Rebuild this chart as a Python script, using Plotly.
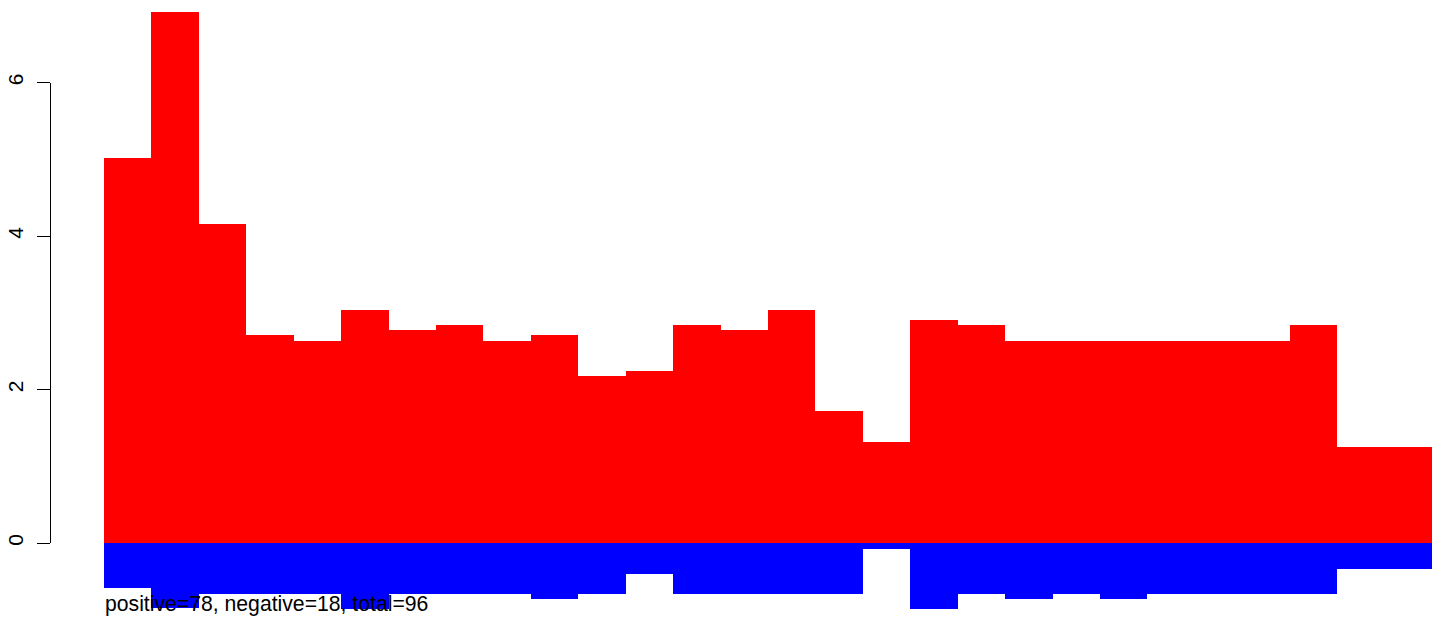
import plotly.graph_objects as go

# Data
bar_index = list(range(28))
positive_values = [5.02, 6.92, 4.16, 2.71, 2.63, 3.04, 2.77, 2.84, 2.63, 2.71,
                   2.18, 2.24, 2.84, 2.77, 3.04, 1.72, 1.32, 2.90, 2.84, 2.63,
                   2.63, 2.63, 2.63, 2.63, 2.63, 2.84, 1.25, 1.25]
negative_values = [-0.59, -0.85, -0.66, -0.66, -0.66, -0.86, -0.66, -0.66, -0.66, -0.73,
                   -0.66, -0.40, -0.66, -0.66, -0.66, -0.66, -0.08, -0.86, -0.66, -0.73,
                   -0.66, -0.73, -0.66, -0.66, -0.66, -0.66, -0.34, -0.34]
y_ticks = [0, 2, 4, 6]
summary_text = "positive=78, negative=18, total=96"

W, H = 1444, 620
x_left_px, x_right_px = 104, 1432
px_per_x = (x_right_px - x_left_px) / len(bar_index)
x_range = [-0.5 - x_left_px / px_per_x, len(bar_index) - 0.5 + (W - x_right_px) / px_per_x]

px_per_y = 76.75
zero_px = 543
y_max = zero_px / px_per_y
y_min = -(H - zero_px) / px_per_y
span = y_max - y_min
dom2 = [(0 - y_min) / span, (6 - y_min) / span]

fig = go.Figure()
fig.add_trace(go.Bar(x=bar_index, y=positive_values, width=1,
                     marker=dict(color="#FF0000", line=dict(width=0)), hoverinfo="skip"))
fig.add_trace(go.Bar(x=bar_index, y=negative_values, width=1,
                     marker=dict(color="#0000FF", line=dict(width=0)), hoverinfo="skip"))
fig.add_trace(go.Scatter(x=[], y=[], yaxis="y2", showlegend=False))

fig.add_annotation(x=-0.5, y=-0.80, xref="x", yref="y", text=summary_text,
                   showarrow=False, xanchor="left", yanchor="middle", borderpad=0,
                   font=dict(family="Liberation Sans, Arial", size=21.2, color="black"))

fig.update_layout(
    width=W, height=H, margin=dict(l=0, r=0, t=0, b=0, autoexpand=False),
    paper_bgcolor="white", plot_bgcolor="rgba(0,0,0,0)", showlegend=False,
    barmode="overlay", bargap=0,
    font=dict(family="Liberation Sans, Arial", size=21, color="black"),
    xaxis=dict(range=x_range, visible=False, fixedrange=True, automargin=False),
    yaxis=dict(range=[y_min, y_max], visible=False, fixedrange=True, automargin=False),
    yaxis2=dict(domain=dom2, range=[0, 6], anchor="free", position=50 / W,
                showline=True, linecolor="black", linewidth=1,
                ticks="outside", ticklen=13, tickwidth=1, tickcolor="black",
                tickvals=y_ticks, ticktext=[str(t) for t in y_ticks],
                tickangle=-90, ticklabelstandoff=6, showgrid=False, zeroline=False,
                automargin=False,
                tickfont=dict(family="Liberation Sans, Arial", size=21, color="black"),
                fixedrange=True),
)

fig.write_html("out.html",
               config={"displayModeBar": False, "staticPlot": True},
               post_script="document.body.style.margin='0';document.body.style.overflow='hidden';")
